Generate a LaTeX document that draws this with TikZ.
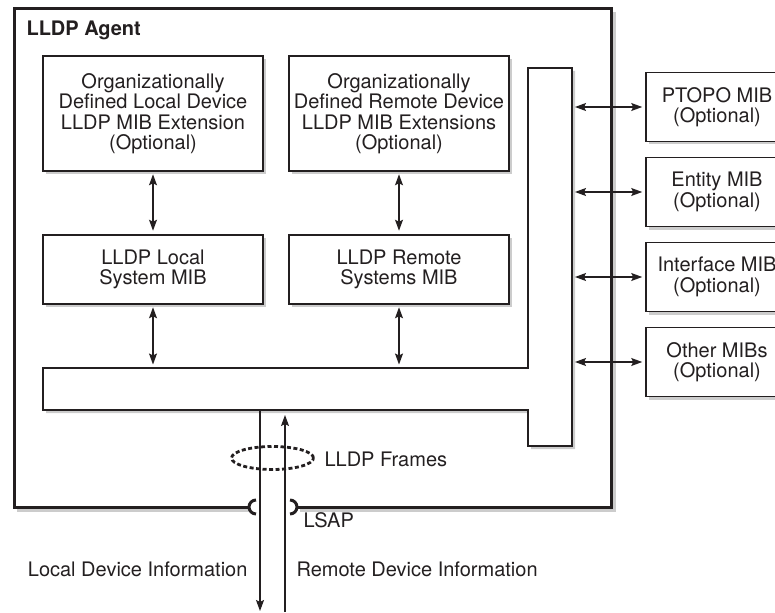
\documentclass[tikz,border=0pt]{standalone}
\usepackage{fontspec}
\setmainfont{TeX Gyre Heros}
\usetikzlibrary{arrows.meta,shadows,shapes.geometric}
\definecolor{ink}{HTML}{231F20}
\newcommand\mibsize{\fontsize{20}{20.5}\selectfont}

\begin{document}
\begin{tikzpicture}[
      x=1pt, y=-1pt,
      color=ink, font=\mibsize,
      >={Stealth[length=11pt, width=8pt, inset=2pt]},
      mib/.style={
        draw, fill=white, line width=1.6pt, align=center, inner sep=0pt,
        drop shadow={shadow xshift=3pt, shadow yshift=-3pt,
          fill=black!20, opacity=1}
      },
      ext/.style={mib, minimum width=220pt, minimum height=115pt},
      sys/.style={mib, minimum width=220pt, minimum height=69pt},
      side/.style={mib, minimum width=142pt, minimum height=69pt},
      link/.style={line width=1.1pt, <->,
        shorten <=2.5pt, shorten >=3.5pt},
      frames/.style={
        ellipse, draw, line width=2.8pt, dash pattern=on 4pt off 2.5pt,
        minimum width=82pt, minimum height=23pt, inner sep=0pt
      }
    ]
      \useasboundingbox (0,0) rectangle (775,612);

      % agent box, open at the LSAP
      \draw[black!20, line width=3pt] (17,510) -- (251,510)
        (300,510) -- (614,510) -- (614,12);
      \draw[line width=3pt] (249,507) -- (14,507) -- (14,9)
        -- (611,9) -- (611,507) -- (297,507);
      \draw[line width=3pt] (256,500) arc[start angle=270, end angle=90, radius=7];
      \draw[line width=3pt] (290,500) arc[start angle=-90, end angle=90, radius=7];
      \node[font=\mibsize\bfseries, anchor=base west] (agent) at (23,36) {LLDP Agent};

      % bus
      \draw[mib] (43,368) -- (528,368) -- (528,68) -- (572,68)
        -- (572,446) -- (528,446) -- (528,410) -- (43,410) -- cycle;

      \node[ext] (lext) at (153,113.5)
        {Organizationally\\Defined Local Device\\LLDP MIB Extension\\(Optional)};
      \node[ext] (rext) at (399,113.5)
        {Organizationally\\Defined Remote Device\\LLDP MIB Extensions\\(Optional)};
      \node[sys] (lsys) at (153,269.5) {LLDP Local\\System MIB};
      \node[sys] (rsys) at (399,269.5) {LLDP Remote\\Systems MIB};

      \coordinate (lbus) at (153,368);
      \coordinate (rbus) at (399,368);
      \draw[link] (lext) -- (lsys);
      \draw[link] (rext) -- (rsys);
      \draw[link] (lsys) -- (lbus);
      \draw[link] (rsys) -- (rbus);

      \foreach \y/\name/\txt in {107/ptopo/PTOPO MIB, 192/entity/Entity MIB,
          277/iface/Interface MIB, 362/other/Other MIBs} {
        \node[side] (\name) at (717,\y) {\txt\\(Optional)};
        \coordinate (\name bus) at (572,\y);
        \draw[link, shorten <=3pt, shorten >=3pt] (\name bus) -- (\name);
      }

      % frames in and out
      \coordinate (txtop) at (260,410);
      \coordinate (txend) at (260,611);
      \coordinate (rxtop) at (285,410);
      \coordinate (rxend) at (285,612);
      \draw[line width=1.1pt, ->] (txtop) -- (txend);
      \draw[line width=1.1pt, ->, shorten >=5pt] (rxend) -- (rxtop);

      \node[frames] (frm) at (272.5,458) {};
      \node[anchor=base west] (frmtxt) at (321,466) {LLDP Frames};
      \node[anchor=base west] (lsap) at (300,527) {LSAP};
      \node[anchor=base east] (local) at (251,576) {Local Device Information};
      \node[anchor=base west] (remote) at (293,576) {Remote Device Information};
    \end{tikzpicture}
\end{document}
